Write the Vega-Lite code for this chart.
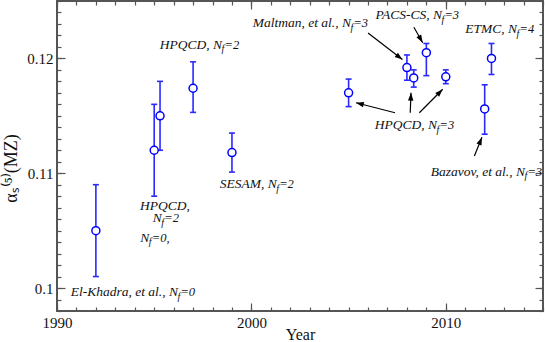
{
  "$schema": "https://vega.github.io/schema/vega-lite/v6.json",
  "autosize": "none",
  "padding": {"left": 57, "top": 1, "right": 2, "bottom": 31},
  "width": 486,
  "height": 310,
  "background": "white",
  "config": {
    "view": {"stroke": "#555", "strokeWidth": 2},
    "axis": {
      "domain": false, "grid": false,
      "labelFont": "Liberation Serif", "labelFontSize": 15, "labelColor": "#111",
      "labelOverlap": false, "labelFlush": false,
      "tickColor": "#555", "tickWidth": 1.2,
      "titleFont": "Liberation Serif", "titleFontWeight": "normal", "titleColor": "#111"
    }
  },
  "datasets": {
    "points": [
      {"year": 1992, "value": 0.105, "lo": 0.101, "hi": 0.109},
      {"year": 1995, "value": 0.112, "lo": 0.108, "hi": 0.116},
      {"year": 1995.3, "value": 0.115, "lo": 0.112, "hi": 0.118},
      {"year": 1997, "value": 0.1174, "lo": 0.1153, "hi": 0.1197},
      {"year": 1999, "value": 0.1118, "lo": 0.1101, "hi": 0.1135},
      {"year": 2005, "value": 0.117, "lo": 0.1158, "hi": 0.1182},
      {"year": 2008, "value": 0.1192, "lo": 0.1181, "hi": 0.1203},
      {"year": 2008.35, "value": 0.1183, "lo": 0.1175, "hi": 0.119},
      {"year": 2009, "value": 0.1205, "lo": 0.1185, "hi": 0.1213},
      {"year": 2010, "value": 0.1184, "lo": 0.1178, "hi": 0.119},
      {"year": 2012, "value": 0.1156, "lo": 0.1134, "hi": 0.1177},
      {"year": 2012.35, "value": 0.12, "lo": 0.1186, "hi": 0.1213}
    ],
    "arrows": [
      {"x1": 2006.0, "y1": 0.12221, "x2": 2007.77, "y2": 0.1199},
      {"x1": 2008.36, "y1": 0.12271, "x2": 2008.81, "y2": 0.12137},
      {"x1": 2007.39, "y1": 0.11527, "x2": 2005.38, "y2": 0.11614},
      {"x1": 2008.17, "y1": 0.11527, "x2": 2008.21, "y2": 0.11701},
      {"x1": 2008.64, "y1": 0.11527, "x2": 2009.84, "y2": 0.11731},
      {"x1": 2011.47, "y1": 0.1115, "x2": 2011.86, "y2": 0.11313}
    ],
    "labels": [
      {"year": 1996.22, "value": 0.09965, "prefix": "El-Khadra, et al., N", "sub": "f", "suffix": "=0"},
      {"year": 1996.84, "value": 0.10714, "prefix": "HPQCD,", "sub": "", "suffix": ""},
      {"year": 1995.39, "value": 0.1061, "prefix": "N", "sub": "f", "suffix": "=2"},
      {"year": 1994.75, "value": 0.10436, "prefix": "N", "sub": "f", "suffix": "=0,"},
      {"year": 1998.49, "value": 0.12117, "prefix": "HPQCD, N", "sub": "f", "suffix": "=2"},
      {"year": 2001.3, "value": 0.10906, "prefix": "SESAM, N", "sub": "f", "suffix": "=2"},
      {"year": 2005.12, "value": 0.12306, "prefix": "Maltman, et al., N", "sub": "f", "suffix": "=3"},
      {"year": 2009.8, "value": 0.12378, "prefix": "PACS-CS, N", "sub": "f", "suffix": "=3"},
      {"year": 2013.66, "value": 0.12254, "prefix": "ETMC, N", "sub": "f", "suffix": "=4"},
      {"year": 2009.55, "value": 0.1142, "prefix": "HPQCD, N", "sub": "f", "suffix": "=3"},
      {"year": 2014.07, "value": 0.11013, "prefix": "Bazavov, et al., N", "sub": "f", "suffix": "=3"}
    ]
  },
  "resolve": {"axis": {"x": "independent", "y": "independent"}},
  "layer": [
    {
      "data": {"name": "points"},
      "mark": {"type": "point", "opacity": 0},
      "encoding": {
        "x": {"field": "year", "type": "quantitative", "scale": {"domain": [1990, 2015], "nice": false, "zero": false},
          "axis": {"orient": "bottom", "title": "Year", "titleFontSize": 16, "titleBaseline": "alphabetic", "titleY": 28,
            "values": [1990, 2000, 2010], "tickSize": -8,
            "labelExpr": "'' + datum.value", "labelPadding": 12}},
        "y": {"field": "value", "type": "quantitative", "scale": {"domain": [0.098, 0.125], "nice": false, "zero": false},
          "axis": {"orient": "left", "title": "αₛ⁽⁵⁾(MZ)", "titleFontSize": 18, "titleBaseline": "alphabetic", "titleX": -41, "titleY": 167,
            "values": [0.1, 0.11, 0.12], "tickSize": -8,
            "labelExpr": "'' + round(datum.value*100)/100", "labelPadding": 12}}
      }
    },
    {
      "data": {"name": "points"},
      "mark": {"type": "point", "opacity": 0},
      "encoding": {
        "x": {"field": "year", "type": "quantitative", "scale": {"domain": [1990, 2015]},
          "axis": {"orient": "bottom", "labels": false, "title": null, "tickSize": -4,
            "values": [1990,1991,1992,1993,1994,1995,1996,1997,1998,1999,2000,2001,2002,2003,2004,2005,2006,2007,2008,2009,2010,2011,2012,2013,2014,2015]}},
        "y": {"field": "value", "type": "quantitative", "scale": {"domain": [0.098, 0.125]},
          "axis": {"orient": "left", "labels": false, "title": null, "tickSize": -4,
            "values": [0.098,0.099,0.1,0.101,0.102,0.103,0.104,0.105,0.106,0.107,0.108,0.109,0.11,0.111,0.112,0.113,0.114,0.115,0.116,0.117,0.118,0.119,0.12,0.121,0.122,0.123,0.124,0.125]}}
      }
    },
    {
      "data": {"name": "points"},
      "mark": {"type": "point", "opacity": 0},
      "encoding": {
        "x": {"field": "year", "type": "quantitative", "scale": {"domain": [1990, 2015]},
          "axis": {"orient": "top", "labels": false, "title": null, "tickSize": -8, "values": [1990, 2000, 2010]}},
        "y": {"field": "value", "type": "quantitative", "scale": {"domain": [0.098, 0.125]},
          "axis": {"orient": "right", "labels": false, "title": null, "tickSize": -8, "values": [0.1, 0.11, 0.12]}}
      }
    },
    {
      "data": {"name": "points"},
      "mark": {"type": "point", "opacity": 0},
      "encoding": {
        "x": {"field": "year", "type": "quantitative", "scale": {"domain": [1990, 2015]},
          "axis": {"orient": "top", "labels": false, "title": null, "tickSize": -4,
            "values": [1990,1991,1992,1993,1994,1995,1996,1997,1998,1999,2000,2001,2002,2003,2004,2005,2006,2007,2008,2009,2010,2011,2012,2013,2014,2015]}},
        "y": {"field": "value", "type": "quantitative", "scale": {"domain": [0.098, 0.125]},
          "axis": {"orient": "right", "labels": false, "title": null, "tickSize": -4,
            "values": [0.098,0.099,0.1,0.101,0.102,0.103,0.104,0.105,0.106,0.107,0.108,0.109,0.11,0.111,0.112,0.113,0.114,0.115,0.116,0.117,0.118,0.119,0.12,0.121,0.122,0.123,0.124,0.125]}}
      }
    },
    {
      "data": {"name": "points"},
      "mark": {"type": "rule", "color": "#2a2aff", "strokeWidth": 1.6},
      "encoding": {
        "x": {"field": "year", "type": "quantitative", "scale": {"domain": [1990, 2015]}, "axis": null},
        "y": {"field": "lo", "type": "quantitative", "scale": {"domain": [0.098, 0.125]}, "axis": null},
        "y2": {"field": "hi"}
      }
    },
    {
      "data": {"name": "points"},
      "mark": {"type": "point", "shape": "stroke", "size": 36, "color": "#2a2aff", "strokeWidth": 1.6, "opacity": 1},
      "encoding": {
        "x": {"field": "year", "type": "quantitative", "scale": {"domain": [1990, 2015]}, "axis": null},
        "y": {"field": "lo", "type": "quantitative", "scale": {"domain": [0.098, 0.125]}, "axis": null}
      }
    },
    {
      "data": {"name": "points"},
      "mark": {"type": "point", "shape": "stroke", "size": 36, "color": "#2a2aff", "strokeWidth": 1.6, "opacity": 1},
      "encoding": {
        "x": {"field": "year", "type": "quantitative", "scale": {"domain": [1990, 2015]}, "axis": null},
        "y": {"field": "hi", "type": "quantitative", "scale": {"domain": [0.098, 0.125]}, "axis": null}
      }
    },
    {
      "data": {"name": "points"},
      "mark": {"type": "point", "shape": "circle", "size": 64, "filled": true, "fill": "white", "stroke": "#0000ff", "strokeWidth": 1.5, "opacity": 1},
      "encoding": {
        "x": {"field": "year", "type": "quantitative", "scale": {"domain": [1990, 2015]}, "axis": null},
        "y": {"field": "value", "type": "quantitative", "scale": {"domain": [0.098, 0.125]}, "axis": null}
      }
    },
    {
      "data": {"name": "arrows"},
      "mark": {"type": "rule", "color": "#000", "strokeWidth": 1.2},
      "encoding": {
        "x": {"field": "x1", "type": "quantitative", "scale": {"domain": [1990, 2015]}, "axis": null},
        "y": {"field": "y1", "type": "quantitative", "scale": {"domain": [0.098, 0.125]}, "axis": null},
        "x2": {"field": "x2"},
        "y2": {"field": "y2"}
      }
    },
    {
      "data": {"name": "arrows"},
      "transform": [{"calculate": "atan2((datum.x2-datum.x1)*19.44, (datum.y2-datum.y1)*11481)*180/PI", "as": "ang"}],
      "mark": {"type": "point", "shape": "M0,0L-0.45,1.3L0.45,1.3Z", "size": 144, "filled": true, "color": "#000", "opacity": 1},
      "encoding": {
        "x": {"field": "x2", "type": "quantitative", "scale": {"domain": [1990, 2015]}, "axis": null},
        "y": {"field": "y2", "type": "quantitative", "scale": {"domain": [0.098, 0.125]}, "axis": null},
        "angle": {"field": "ang", "type": "quantitative", "scale": null}
      }
    },
    {
      "data": {"name": "labels"},
      "mark": {"type": "text", "align": "right", "baseline": "middle", "font": "Liberation Serif", "fontStyle": "italic", "fontSize": 13.5, "color": "#111"},
      "encoding": {
        "x": {"field": "year", "type": "quantitative", "scale": {"domain": [1990, 2015]}, "axis": null},
        "y": {"field": "value", "type": "quantitative", "scale": {"domain": [0.098, 0.125]}, "axis": null},
        "text": {"field": "prefix"}
      }
    },
    {
      "data": {"name": "labels"},
      "mark": {"type": "text", "align": "left", "baseline": "middle", "dx": -0.5, "dy": 4.5, "font": "Liberation Serif", "fontStyle": "italic", "fontSize": 10, "color": "#111"},
      "encoding": {
        "x": {"field": "year", "type": "quantitative", "scale": {"domain": [1990, 2015]}, "axis": null},
        "y": {"field": "value", "type": "quantitative", "scale": {"domain": [0.098, 0.125]}, "axis": null},
        "text": {"field": "sub"}
      }
    },
    {
      "data": {"name": "labels"},
      "mark": {"type": "text", "align": "left", "baseline": "middle", "dx": 2.5, "font": "Liberation Serif", "fontStyle": "italic", "fontSize": 12.5, "color": "#111"},
      "encoding": {
        "x": {"field": "year", "type": "quantitative", "scale": {"domain": [1990, 2015]}, "axis": null},
        "y": {"field": "value", "type": "quantitative", "scale": {"domain": [0.098, 0.125]}, "axis": null},
        "text": {"field": "suffix"}
      }
    }
  ]
}
